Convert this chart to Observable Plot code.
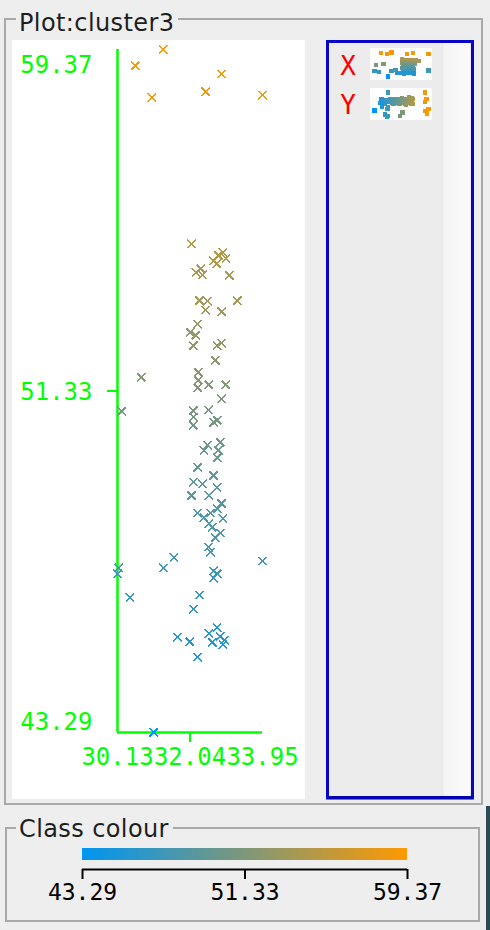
<!DOCTYPE html>
<html><head><meta charset="utf-8">
<script src="https://cdn.jsdelivr.net/npm/d3@7"></script>
<script src="https://cdn.jsdelivr.net/npm/@observablehq/plot@0.6"></script>
<style>
html,body{margin:0;padding:0;background:#eeeeee;}
body{width:490px;height:930px;position:relative;overflow:hidden;font-family:"DejaVu Sans",sans-serif;}
.abs{position:absolute;}
.panel{position:absolute;border:2px solid #a9a9a9;box-sizing:border-box;}
.ptitle{position:absolute;background:#eeeeee;padding:0 4px 0 3px;font-size:24px;line-height:24px;color:#1e1e1e;letter-spacing:0.4px;white-space:nowrap;}
.axlab{position:absolute;width:22px;text-align:center;font-family:"DejaVu Sans Mono",monospace;font-size:26px;line-height:28px;height:28px;color:#ff0000;}
</style></head><body>
<script>
// ---------- data ----------
const plotTitle = "Plot:cluster3";
const legendTitle = "Class colour";
const xTicks = [30.13, 32.04, 33.95];
const yTicks = [43.29, 51.33, 59.37];
const xs = [30.60,31.34,32.87,31.03,32.45,33.95,
  32.08,32.66,32.79,32.90,32.98,32.74,32.19,32.32,32.37,33.08,
  32.29,32.50,33.29,32.45,32.87,32.24,32.05,32.19,32.13,32.76,32.87,32.71,
  30.76,32.26,32.26,32.24,32.53,32.98,32.87,
  30.24,32.13,32.53,32.13,32.66,32.76,32.13,
  32.50,32.84,32.40,32.79,32.76,32.24,32.66,32.13,32.37,32.76,
  32.08,32.53,32.87,32.76,32.24,32.58,32.40,32.90,32.53,32.63,32.84,32.71,32.53,32.58,
  31.61,31.34,33.95,30.16,30.13,32.66,32.76,32.66,
  30.45,32.29,32.13,32.76,32.53,32.63,32.84,32.95,32.90,31.71,32.03,32.24,31.08];
const ys = [58.99,59.37,58.80,58.24,58.38,58.29,
  54.80,54.40,54.52,54.59,54.45,54.33,54.12,54.21,54.07,54.05,
  53.46,53.44,53.46,53.23,53.20,52.90,52.71,52.64,52.40,52.40,52.45,52.05,
  51.65,51.77,51.58,51.41,51.48,51.48,51.15,
  50.85,50.87,50.89,50.71,50.59,50.64,50.52,
  50.05,50.12,49.93,49.93,49.76,49.53,49.34,49.18,49.15,49.06,
  48.87,48.87,48.68,48.56,48.45,48.45,48.35,48.33,48.21,48.12,47.98,47.88,47.65,47.53,
  47.41,47.17,47.32,47.17,47.03,47.10,47.03,46.92,
  46.47,46.52,46.19,45.76,45.62,45.41,45.55,45.46,45.36,45.53,45.43,45.06,43.29];
const axisLabels = ["X", "Y"];
const colorRange = ["#0096f2", "#ff9900"];

// ---------- build ----------
const points = xs.map((x, i) => ({x, y: ys[i]}));
const green = "#00ff00";
const mono = "DejaVu Sans Mono, monospace";
const colorOpts = {type: "linear", domain: [yTicks[0], yTicks[2]], range: colorRange, interpolate: "rgb"};
const fmt = d => d.toFixed(2);

function place(el, left, top) {
  el.style.position = "absolute";
  el.style.left = left + "px";
  el.style.top = top + "px";
  document.body.appendChild(el);
  return el;
}
function div(cls, css, text) {
  const d = document.createElement("div");
  d.className = cls;
  d.style.cssText = css;
  if (text != null) d.textContent = text;
  document.body.appendChild(d);
  return d;
}

// panels
div("panel", "left:4px;top:18px;width:479px;height:787px;");
div("ptitle", "left:16px;top:11px;", plotTitle);
div("panel", "left:5px;top:827px;width:475px;height:95px;");
div("ptitle", "left:16px;top:817px;", legendTitle);
div("abs", "left:486px;top:806px;width:4px;height:124px;background:#2b4a58;");

// main plot
const main = Plot.plot({
  width: 293, height: 759,
  marginLeft: 105, marginRight: 43, marginTop: 9, marginBottom: 67,
  style: {background: "white", overflow: "visible"},
  x: {domain: [xTicks[0], xTicks[2]]},
  y: {domain: [yTicks[0], yTicks[2]]},
  color: colorOpts,
  marks: [
    Plot.ruleX([xTicks[0]], {stroke: green, strokeWidth: 2.5}),
    Plot.ruleY([yTicks[0]], {stroke: green, strokeWidth: 2.5}),
    Plot.axisY([yTicks[1]], {anchor: "left", tickSize: 10, tickFormat: () => "", stroke: green, strokeWidth: 2, label: null}),
    Plot.axisX([xTicks[1]], {anchor: "bottom", tickSize: 10, tickFormat: () => "", stroke: green, strokeWidth: 2, label: null}),
    Plot.text([yTicks[2]], {x: xTicks[0], y: d => d, text: fmt, dx: -25, dy: 16, textAnchor: "end", fill: green, fontSize: 24, fontFamily: mono}),
    Plot.text([yTicks[1]], {x: xTicks[0], y: d => d, text: fmt, dx: -25, dy: 1, textAnchor: "end", fill: green, fontSize: 24, fontFamily: mono}),
    Plot.text([yTicks[0]], {x: xTicks[0], y: d => d, text: fmt, dx: -25, dy: -10, textAnchor: "end", fill: green, fontSize: 24, fontFamily: mono}),
    Plot.text(xTicks, {x: d => d, y: yTicks[0], text: fmt, dy: 24.5, textAnchor: "middle", fill: green, fontSize: 24, fontFamily: mono}),
    Plot.dot(points, {x: "x", y: "y", stroke: "y", symbol: "times", r: 3.8, strokeWidth: 1.5, shapeRendering: "crispEdges"})
  ]
});
place(main, 12, 40);

// right box
div("abs", "left:326px;top:40px;width:148px;height:759px;box-sizing:border-box;border:3px solid #0606c6;border-bottom-color:#0000b0;background:#ececec;box-shadow:0 1px 0 #6a6aff;");
div("abs", "left:442px;top:43px;width:28px;height:753px;background:linear-gradient(to right,#e6e6e6 0px,#f4f4f4 2px,#fbfbfb 100%);");
div("axlab", "left:337px;top:52px;", axisLabels[0]);
div("axlab", "left:337px;top:91px;", axisLabels[1]);

function thumb(xk, yk, xd, yd) {
  return Plot.plot({
    width: 62, height: 32, margin: 4,
    style: {background: "white"},
    x: {domain: xd, axis: null},
    y: {domain: yd, axis: null},
    color: colorOpts,
    marks: [Plot.dot(points, {x: xk, y: yk, fill: "y", symbol: "square", r: 2.4, shapeRendering: "crispEdges"})]
  });
}
place(thumb("x", "y", [xTicks[0], xTicks[2]], [yTicks[0], yTicks[2]]), 370, 48);
place(thumb("y", "x", [yTicks[0], yTicks[2]], [xTicks[0], xTicks[2]]), 370, 88);

// legend
const nSteps = 160;
const ramp = d3.range(nSteps + 1).map(i => yTicks[0] + (yTicks[2] - yTicks[0]) * i / nSteps);
const legend = Plot.plot({
  width: 490, height: 75,
  marginLeft: 82, marginRight: 83, marginTop: 8, marginBottom: 46,
  style: {background: "transparent", overflow: "visible"},
  x: {domain: [yTicks[0], yTicks[2]]},
  y: {domain: [0, 1], axis: null},
  color: colorOpts,
  marks: [
    Plot.rect(ramp.slice(0, -1), {x1: d => d, x2: (d, i) => ramp[i + 1], fill: d => d, insetBottom: 9, shapeRendering: "crispEdges"}),
    Plot.ruleY([0], {stroke: "black", strokeWidth: 2}),
    Plot.axisX(yTicks, {anchor: "bottom", tickSize: 10, tickPadding: 4, tickFormat: fmt, color: "black", strokeWidth: 2, fontSize: 23, fontFamily: mono, label: null})
  ]
});
place(legend, 0, 840);
</script>
</body></html>
